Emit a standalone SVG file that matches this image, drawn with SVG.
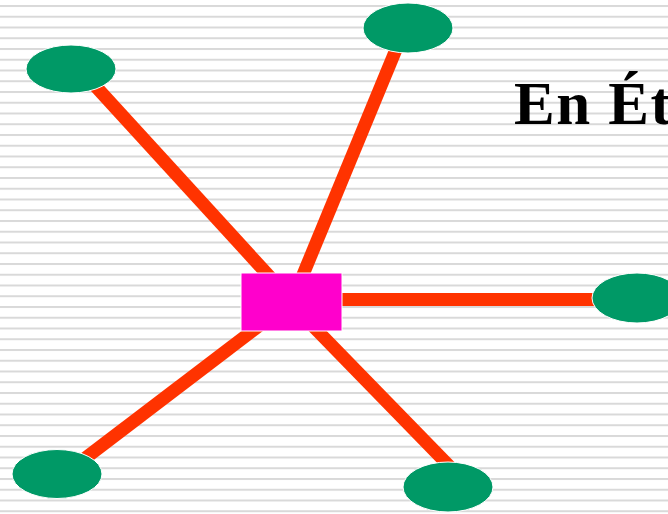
<svg xmlns="http://www.w3.org/2000/svg" width="668" height="514" viewBox="0 0 668 514">
  <defs>
    <pattern id="stripes" x="0" y="5" width="668" height="10.75" patternUnits="userSpaceOnUse">
      <rect x="0" y="0" width="668" height="2" fill="#d9d9d9"/>
    </pattern>
    <style>
      .link { stroke: #ff3300; stroke-width: 13; stroke-linecap: butt; fill: none; }
      .leaf { fill: #009966; stroke: #ffffff; stroke-width: 1; }
      .hub { fill: #ff00cc; stroke: #ffffff; stroke-width: 1; }
      .title { font-family: "Liberation Serif", "Times New Roman", serif; font-weight: bold; font-size: 61px; letter-spacing: 1.5px; fill: #000000; }
    </style>
  </defs>

  <!-- striped background -->
  <rect x="0" y="0" width="668" height="514" fill="#ffffff"/>
  <rect x="0" y="0" width="668" height="514" fill="url(#stripes)"/>

  <!-- connectors from the hub to each station -->
  <g id="connectors">
    <line class="link" x1="88" y1="78" x2="280" y2="288"/>
    <line class="link" x1="402" y1="35" x2="300" y2="282"/>
    <line class="link" x1="330" y1="299.5" x2="605" y2="299.5"/>
    <line class="link" x1="75" y1="466" x2="264" y2="322"/>
    <line class="link" x1="458" y1="475" x2="305" y2="318"/>
  </g>

  <g id="hub">
    <rect class="hub" x="241" y="273" width="101" height="58"/>
  </g>

  <g id="station-top-left">
    <ellipse class="leaf" cx="71" cy="69" rx="45" ry="24"/>
  </g>
  <g id="station-top">
    <ellipse class="leaf" cx="408" cy="28" rx="45" ry="25"/>
  </g>
  <g id="station-right">
    <ellipse class="leaf" cx="637" cy="298" rx="45" ry="25"/>
  </g>
  <g id="station-bottom-left">
    <ellipse class="leaf" cx="57" cy="474" rx="45" ry="24.5"/>
  </g>
  <g id="station-bottom">
    <ellipse class="leaf" cx="448" cy="487" rx="45" ry="25"/>
  </g>

  <g id="title">
    <text class="title" x="514" y="124">En Ét</text>
  </g>
</svg>
